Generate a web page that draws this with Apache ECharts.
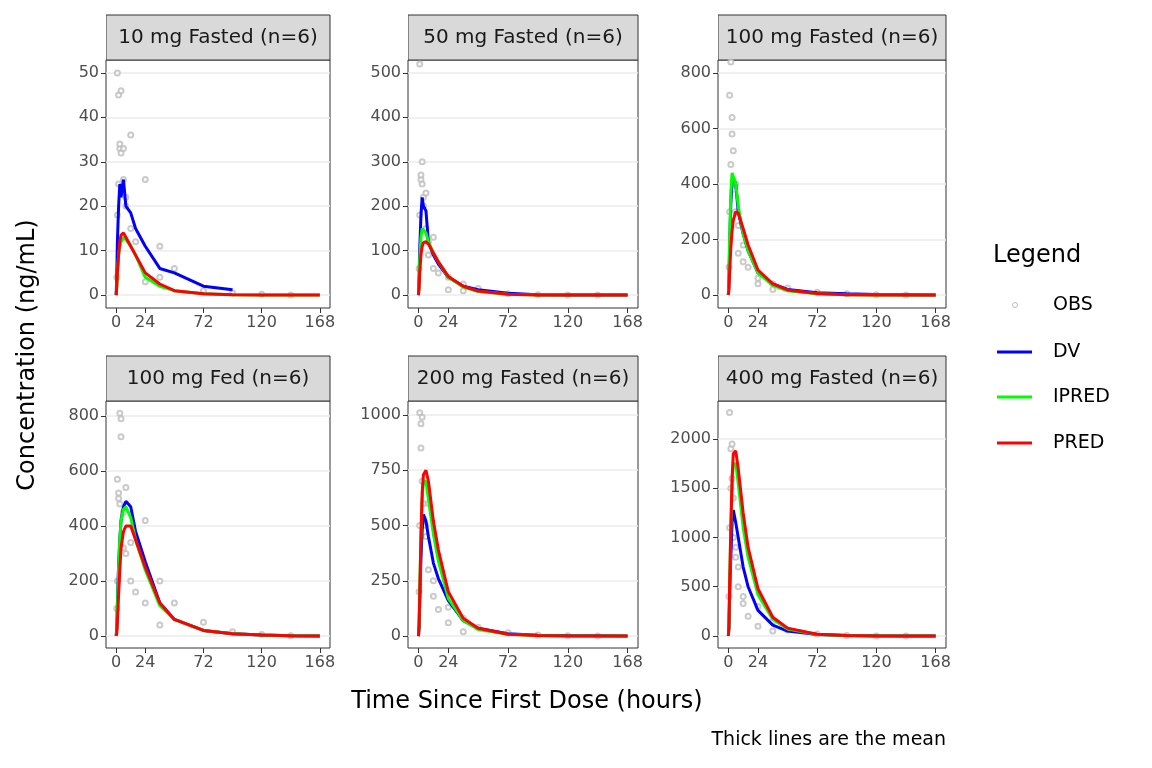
<!DOCTYPE html>
<html><head><meta charset="utf-8">
<script src="https://cdn.jsdelivr.net/npm/echarts@6/dist/echarts.min.js"></script>
<style>html,body{margin:0;background:#fff}#c{width:1152px;height:768px}</style>
</head><body><div id="c"></div>
<script>
const panelTitles = ["10 mg Fasted (n=6)","50 mg Fasted (n=6)","100 mg Fasted (n=6)","100 mg Fed (n=6)","200 mg Fasted (n=6)","400 mg Fasted (n=6)"];
const xTicks = [0,24,72,120,168];
const yTicks = [[0,10,20,30,40,50],[0,100,200,300,400,500],[0,200,400,600,800],[0,200,400,600,800],[0,250,500,750,1000],[0,500,1000,1500,2000]];
const yRange = [[-2.9,52.9],[-29,529],[-47,847],[-44,855],[-54,1063],[-122,2386]];
const times = [0,0.5,1,2,3,4,6,8,12,16,24,36,48,72,96,120,144,168];
const dvMean = [
 [0,5,12,20,25,22,26,20,18.5,15,11,6,5,2,1.2,null,null,null],
 [0,40,100,180,220,200,190,120,90,70,40,20,12,4,1,0.5,0.2,0],
 [0,60,180,330,410,420,400,300,220,160,80,40,20,8,4,2,1,0],
 [0,30,120,260,350,420,470,490,470,380,270,120,60,20,8,3,1,0],
 [0,40,150,350,480,550,520,450,330,260,160,70,35,10,4,2,1,0],
 [0,100,400,800,1150,1280,1150,1000,700,500,260,110,50,15,6,2,1,0]
];
const iprMean = [
 [0,2,5,9,11,12,13,12.5,11,9,4,2,1,0.3,0.1,0,0,0],
 [0,30,80,130,150,150,140,120,95,75,40,18,8,2,0.5,0.2,0,0],
 [0,70,200,370,440,440,400,320,220,160,80,35,15,4,1,0.3,0,0],
 [0,20,100,250,350,420,460,470,430,350,240,110,60,20,8,3,1,0],
 [0,50,200,450,620,700,700,620,460,340,170,70,30,8,2,0.5,0,0],
 [0,100,500,1100,1500,1750,1750,1550,1100,800,420,170,70,15,4,1,0,0]
];
const predMean = [
 [0,2,5,9,12,13.5,14,13,11,9,5,2.5,1,0.3,0.1,0,0,0],
 [0,15,50,90,110,118,120,115,95,75,42,20,9,2,0.5,0.2,0,0],
 [0,20,80,170,230,270,300,295,240,180,90,40,18,5,1,0.3,0,0],
 [0,10,50,150,240,320,380,400,400,350,250,120,60,20,8,3,1,0],
 [0,40,180,450,650,730,750,700,520,390,200,80,35,8,2,0.5,0,0],
 [0,100,500,1100,1600,1850,1880,1700,1250,900,480,190,80,18,4,1,0,0]
];
const obsT = [0.5,1,1,2,2,3,3,4,4,6,6,8,8,12,12,16,24,24,36,36,48,72,96,120,144];
const obsV = [
 [4,18,50,25,45,33,34,32,46,26,33,22,20,36,15,12,26,3,11,4,6,1,0.5,0.2,0],
 [60,180,520,260,270,300,250,220,200,230,150,120,90,130,60,50,40,12,25,10,15,3,1,0,0],
 [100,300,720,470,840,640,580,520,380,400,300,250,150,180,120,100,60,40,40,20,25,10,4,1,0],
 [100,200,570,500,520,480,810,790,725,450,320,540,300,340,200,160,420,120,200,40,120,50,15,5,1],
 [200,500,1010,850,960,990,700,600,530,500,450,600,300,250,180,120,130,60,80,20,40,15,5,1,0],
 [400,1100,2270,1500,1900,1950,1600,1400,1000,900,800,700,500,400,330,200,300,100,150,50,60,20,6,1,0]
];

const gridL = [106,408,718], gridW = [224,230,228];
const gridT = [60,401], gridH = [248,247];
const grids=[], xAxes=[], yAxes=[], series=[], graphics=[];
const lab = {fontSize:16,color:'#4d4d4d',fontFamily:'DejaVu Sans',margin:7,formatter:v=>String(v)};
for (let i=0;i<6;i++){
  const r=Math.floor(i/3), c=i%3;
  grids.push({left:gridL[c],top:gridT[r],width:gridW[c],height:gridH[r],show:true,borderColor:'#333',borderWidth:1,backgroundColor:'#fff'});
  xAxes.push({type:'value',gridIndex:i,min:-8.4,max:176.4,
    axisLine:{show:false,onZero:false},axisTick:{show:true,inside:false,length:5,lineStyle:{color:'#333'},customValues:xTicks},
    axisLabel:Object.assign({customValues:xTicks},lab),
    splitLine:{show:false}});
  yAxes.push({type:'value',gridIndex:i,min:yRange[i][0],max:yRange[i][1],
    axisLine:{show:false,onZero:false},axisTick:{show:true,inside:false,length:5,lineStyle:{color:'#333'},customValues:yTicks[i]},
    axisLabel:Object.assign({customValues:yTicks[i]},lab),
    splitLine:{show:true,lineStyle:{color:'#ebebeb',width:1.5}}});
  series.push({type:'scatter',xAxisIndex:i,yAxisIndex:i,symbol:'emptyCircle',symbolSize:5,silent:true,z:1,
    itemStyle:{color:'#bdbdbd',borderColor:'#bdbdbd',borderWidth:1},data:obsT.map((t,k)=>[t,obsV[i][k]])});
  [[dvMean,'#0000ff'],[iprMean,'#00ff00'],[predMean,'#ff0000']].forEach(([arr,col])=>{
    series.push({type:'line',xAxisIndex:i,yAxisIndex:i,showSymbol:false,symbol:'none',silent:true,z:2,
      lineStyle:{color:col,width:3},data:arr[i].map((v,k)=>[times[k],v]).filter(p=>p[1]!=null)});
  });
  const sx=gridL[c], sy=gridT[r]-45, sw=gridW[c];
  graphics.push({type:'rect',shape:{x:sx,y:sy,width:sw,height:45},style:{fill:'#d9d9d9',stroke:'#333',lineWidth:1},z:1});
  graphics.push({type:'text',x:sx+sw/2,y:sy+23,style:{text:panelTitles[i],fill:'#1a1a1a',font:'20px "DejaVu Sans"',align:'center',verticalAlign:'middle'},z:2});
}
[[0,106],[331,77],[639,79],[947,205]].forEach(([x,w])=>{
  [15,356].forEach(y=>graphics.push({type:'rect',shape:{x:x,y:y-1,width:w,height:46},style:{fill:'#fff'},z:3}));
});
graphics.push({type:'text',x:28,y:355,rotation:Math.PI/2,style:{text:'Concentration (ng/mL)',fill:'#000',font:'24px "DejaVu Sans"',align:'center',verticalAlign:'middle'},z:5});
graphics.push({type:'text',x:527,y:702,style:{text:'Time Since First Dose (hours)',fill:'#000',font:'24px "DejaVu Sans"',align:'center',verticalAlign:'middle'},z:5});
graphics.push({type:'text',x:946,y:740,style:{text:'Thick lines are the mean',fill:'#000',font:'19px "DejaVu Sans"',align:'right',verticalAlign:'middle'},z:5});
graphics.push({type:'text',x:993,y:256,style:{text:'Legend',fill:'#000',font:'24px "DejaVu Sans"',align:'left',verticalAlign:'middle'},z:5});
graphics.push({type:'circle',shape:{cx:1015,cy:305,r:2.5},style:{fill:'#fff',stroke:'#bdbdbd',lineWidth:1},z:5});
[['OBS',305],['DV',352],['IPRED',397],['PRED',443]].forEach(([t,y])=>
  graphics.push({type:'text',x:1053,y:y,style:{text:t,fill:'#000',font:'19px "DejaVu Sans"',align:'left',verticalAlign:'middle'},z:5}));
[['#0000ff',352],['#00ff00',397],['#ff0000',443]].forEach(([col,y])=>
  graphics.push({type:'line',shape:{x1:997,y1:y,x2:1032,y2:y},style:{stroke:col,lineWidth:3},z:5}));

const chart=echarts.init(document.getElementById('c'));
chart.setOption({animation:false,backgroundColor:'#fff',grid:grids,xAxis:xAxes,yAxis:yAxes,series:series,graphic:graphics});
</script></body></html>
